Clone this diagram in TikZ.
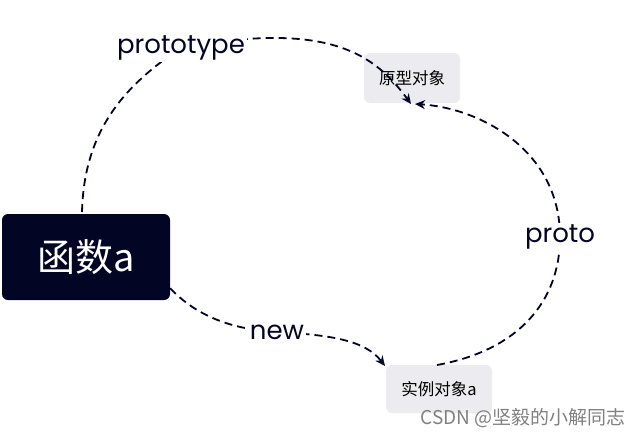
\documentclass[tikz,border=0pt]{standalone}
\usepackage{fontspec}
\setmainfont{Noto Sans CJK SC}
\newfontfamily\latinf{Poppins}
\usetikzlibrary{arrows.meta}
\definecolor{navy}{HTML}{020523}
\definecolor{boxgray}{HTML}{ECEBEF}
\tikzset{
  conn/.style={draw=navy, line width=1.8pt, dash pattern=on 8pt off 5pt, -{Stealth[length=10pt,width=9pt]}},
  lbl/.style={fill=white, inner sep=2pt, text=navy, font=\latinf\fontsize{26}{26}\selectfont},
  obj/.style={fill=boxgray, rounded corners=6pt, inner sep=0pt, font=\fontsize{16.5}{17}\selectfont, text=black}
}
\begin{document}
\begin{tikzpicture}[x=1pt,y=-1pt]
\useasboundingbox (0,0) rectangle (644,439);
\node[fill=navy, rounded corners=6pt, minimum width=168pt, minimum height=86pt, text=white, font=\fontsize{38}{38}\selectfont] (fn) at (86,257) {函数a};
\node[obj, minimum width=96pt, minimum height=50pt] (proto) at (412,78) {原型对象};
\node[obj, minimum width=106pt, minimum height=48pt] (inst) at (439,389) {实例对象a};
\coordinate (lp) at (181,48);
\coordinate (lq) at (560,237);
\coordinate (ln) at (277,332);
\draw[conn] (82,212) .. controls (84,130) and (125,85) .. (lp) .. controls (330,20) and (375,55) .. (411,104);
\draw[conn] (437,365) .. controls (520,350) and (560,300) .. (lq) .. controls (560,150) and (480,108) .. (415,104);
\draw[conn] (fn.south east) ++(0,-12) .. controls (200,320) and (240,330) .. (ln) .. controls (330,335) and (365,340) .. (385,366);
\node[lbl] (tp) at (lp) {prototype};
\node[lbl] (tq) at (lq) {proto};
\node[lbl] (tn) at (ln) {new};
\node[text=gray, font=\fontsize{19}{19}\selectfont] (wm) at (523,418) {CSDN @坚毅的小解同志};
\end{tikzpicture}
\end{document}
